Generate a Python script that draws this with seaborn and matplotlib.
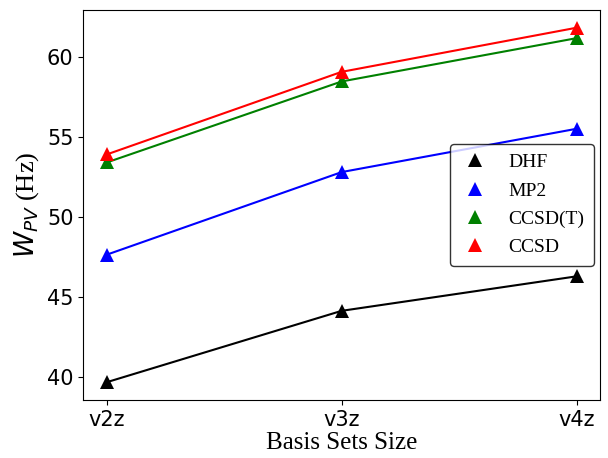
import pandas as pd
import matplotlib
matplotlib.use("Agg")
import matplotlib.pyplot as plt
from matplotlib.lines import Line2D
import seaborn as sns

basis_sets = ["v2z", "v3z", "v4z"]
methods = ["DHF", "MP2", "CCSD(T)", "CCSD"]
dhf = [39.7, 44.15, 46.3]
mp2 = [47.65, 52.8, 55.5]
ccsd_t = [53.4, 58.45, 61.15]
ccsd = [53.9, 59.05, 61.8]
colors = ["black", "blue", "green", "red"]

rows = []
for name, vals in zip(methods, [dhf, mp2, ccsd_t, ccsd]):
    for b, v in zip(basis_sets, vals):
        rows.append({"Basis": b, "Value": v, "Method": name})
df = pd.DataFrame(rows)

fig = plt.figure(figsize=(6.08, 4.58), dpi=100)
ax = fig.add_axes([0.137, 0.127, 0.85, 0.851])

sns.lineplot(data=df, x="Basis", y="Value", hue="Method", hue_order=methods,
             palette=colors, marker="^", markersize=10, markeredgewidth=0,
             linewidth=1.5, legend=False, ax=ax)

ax.set_ylim(38.6, 62.9)
ax.set_yticks([40, 45, 50, 55, 60])
ax.tick_params(labelsize=15)
ax.set_xlabel("Basis Sets Size", fontsize=18, family="Liberation Serif", labelpad=2)
ax.set_ylabel(r"$W_{PV}$ (Hz)", fontsize=19, family="Liberation Serif")

handles = [Line2D([], [], color=c, marker="^", linestyle="none", markersize=10,
                  markeredgewidth=0) for c in colors]
leg = ax.legend(handles, methods, loc="center right",
                prop={"family": "Liberation Serif", "size": 14},
                edgecolor="black", handlelength=1.6, handletextpad=0.9,
                labelspacing=0.55, borderpad=0.5, borderaxespad=0.3)
leg.get_frame().set_linewidth(1.0)

fig.savefig("out.png", dpi=100)
